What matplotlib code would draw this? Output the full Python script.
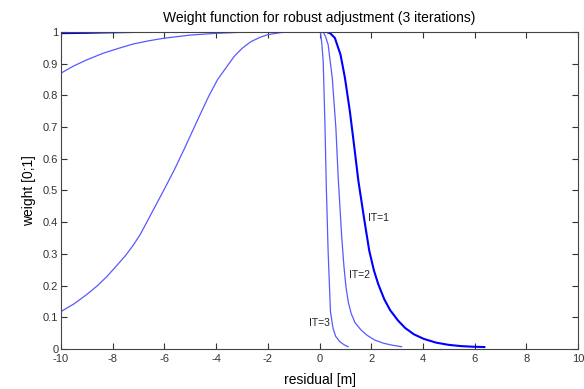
import matplotlib
matplotlib.use("Agg")
from matplotlib import pyplot as plt

plt.rcParams['font.family'] = ['Liberation Sans', 'DejaVu Sans']
plt.rcParams['axes.unicode_minus'] = False

# iteration 1 (thick curve)
x_it1 = [-10, -9.0, -8.5, -7.0, -4.0, 0.0, 0.26, 0.42, 0.59, 0.81, 0.98, 1.17, 1.33,
         1.50, 1.72, 1.92, 2.10, 2.27, 2.50, 2.73, 3.04, 3.31, 3.65, 4.02, 4.50,
         4.98, 5.45, 5.92, 6.37]
y_it1 = [0.996, 0.997, 0.998, 1.0, 1.0, 1.0, 1.0, 0.995, 0.981, 0.928, 0.855, 0.75, 0.645,
         0.53, 0.412, 0.31, 0.248, 0.204, 0.157, 0.122, 0.089, 0.066, 0.046, 0.032, 0.020,
         0.013, 0.009, 0.007, 0.006]

# iteration 2
x_it2 = [-10, -9.5, -9.0, -8.36, -7.7, -7.2, -6.6, -6.03, -5.0, -4.1, -3.0, -2.0,
         0.0, 0.14, 0.23, 0.33, 0.49, 0.63, 0.72, 0.85, 0.94, 1.02, 1.11, 1.22, 1.37,
         1.60, 1.82, 2.13, 2.47, 2.80, 3.17]
y_it2 = [0.870, 0.893, 0.912, 0.933, 0.950, 0.962, 0.972, 0.980, 0.990, 0.995, 0.999, 1.0,
         1.0, 1.0, 0.985, 0.96, 0.855, 0.697, 0.54, 0.36, 0.262, 0.195, 0.148, 0.112, 0.083,
         0.060, 0.044, 0.028, 0.018, 0.012, 0.007]

# iteration 3
x_it3 = [-10, -9.5, -9.0, -8.6, -8.23, -7.9, -7.5, -7.2, -6.93, -6.5, -6.03, -5.6,
         -5.25, -4.9, -4.6, -4.3, -3.95, -3.6, -3.31, -3.0, -2.66, -2.3, -2.01, -1.5,
         -1.0, 0.0, 0.04, 0.09, 0.14, 0.21, 0.26, 0.33, 0.42, 0.52, 0.62, 0.78, 0.95, 1.10]
y_it3 = [0.118, 0.142, 0.172, 0.199, 0.228, 0.258, 0.295, 0.328, 0.362, 0.428, 0.50, 0.568,
         0.628, 0.69, 0.743, 0.795, 0.849, 0.889, 0.922, 0.948, 0.969, 0.983, 0.991, 0.998,
         1.0, 1.0, 0.995, 0.96, 0.907, 0.697, 0.51, 0.307, 0.118, 0.065, 0.040, 0.023, 0.013, 0.007]

labels = ["IT=1", "IT=2", "IT=3"]
label_pos = [(1.88, 0.413), (1.15, 0.233), (-0.40, 0.083)]

xticks = list(range(-10, 11, 2))
yticks = [i / 10 for i in range(11)]
yticklabels = ["0", "0.1", "0.2", "0.3", "0.4", "0.5", "0.6", "0.7", "0.8", "0.9", "1"]

fig = plt.figure(figsize=(5.84, 3.89), dpi=100)
ax = fig.add_axes([0.1045, 0.103, 0.8855, 0.815])

thin = (0.35, 0.35, 1.0)
ax.plot(x_it3, y_it3, color=thin, lw=0.9)
ax.plot(x_it2, y_it2, color=thin, lw=0.9)
ax.plot(x_it1, y_it1, color="#0000ff", lw=1.5)

for lab, (lx, ly) in zip(labels, label_pos):
    ax.text(lx, ly, lab, fontsize=7.5, va="center", ha="left", color="#222222")

ax.set_xlim(-10, 10)
ax.set_ylim(0, 1)
ax.set_xticks(xticks)
ax.set_yticks(yticks)
ax.set_yticklabels(yticklabels)
ax.tick_params(direction="in", length=4.5, top=True, right=True, labelsize=8,
               colors="#333333")
ax.tick_params(axis="x", pad=4)
ax.tick_params(axis="y", pad=2)
for s in ax.spines.values():
    s.set_color("#444444")
    s.set_linewidth(0.8)

ax.set_title("Weight function for robust adjustment (3 iterations)", fontsize=10, pad=7)
ax.set_xlabel("residual [m]", fontsize=10, labelpad=6)
ax.set_ylabel("weight [0;1]", fontsize=10, labelpad=5)

fig.savefig("out.png", dpi=100)
